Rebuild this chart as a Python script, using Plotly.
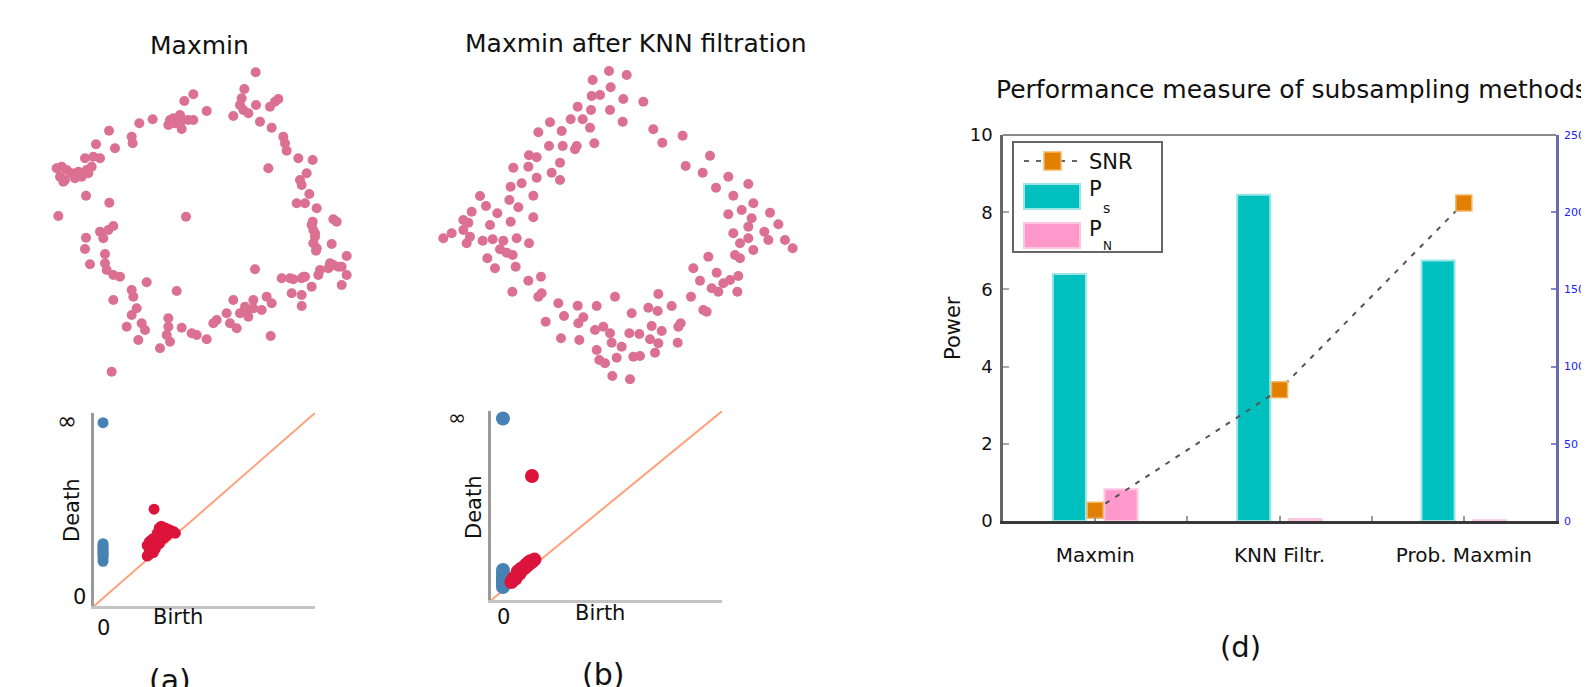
import plotly.graph_objects as go

# target picture size and the page's default body margin (the figure starts 8px in)
W, H = 1589, 687
OX, OY = 8, 8
FW, FH = W - OX, H - OY
FONT = "DejaVu Sans"

# ---------------- panel (a): Maxmin subsample (arbitrary plane units) ----------------
a_x = [767, 733, 725, 720, 730, 745, 768, 810, 825, 835, 700, 780, 815, 850, 855, 860, 895, 938, 805, 920,
       900, 905, 928, 890, 915, 950, 1000, 1010, 938, 940, 945, 940, 995, 948, 1040, 990, 1025, 960, 955, 1040,
       1025, 935, 910, 880, 845, 875, 905, 905, 800, 815, 785, 760, 735, 745, 720, 700, 690, 710, 680, 650,
       640, 812, 765,
       620, 590, 575, 545, 510, 500, 505, 505, 480, 530, 440, 415, 435, 425, 380, 395, 410, 400, 395, 340,
       360, 340, 320, 315, 315, 270, 255, 258, 300, 310, 325, 340, 335,
       175, 258, 328, 558, 185, 195, 180, 215, 235, 260, 275, 255, 280, 300, 288, 327, 345, 395, 398, 418,
       458, 510, 505, 540, 550, 580, 545, 553, 580, 620,
       170, 200, 245, 265, 190, 225, 520, 565, 525, 935, 945, 950, 740, 760, 870, 905, 915, 985, 1000, 1015]
a_y = [127, 177, 205, 225, 240, 250, 225, 230, 215, 207, 258, 275, 293, 320, 340, 362, 385, 390, 415, 430,
       450, 465, 492, 520, 520, 535, 568, 575, 575, 600, 620, 640, 642, 662, 678, 700, 710, 720, 735, 735,
       765, 770, 740, 748, 745, 790, 795, 828, 800, 820, 840, 810, 830, 860, 850, 810, 880, 895, 850, 870,
       880, 918, 718,
       928, 915, 910, 893, 935, 915, 890, 865, 955, 783, 757, 930, 900, 880, 890, 855, 835, 800, 780, 810,
       740, 735, 720, 700, 672, 703, 657, 623, 605, 625, 600, 588, 1025,
       558, 497, 518, 560, 410, 450, 440, 430, 425, 420, 410, 385, 380, 385, 343, 302, 355, 320, 340, 280,
       268, 270, 285, 255, 270, 270, 297, 213, 193, 243,
       415, 420, 440, 430, 455, 445, 265, 270, 280, 585, 610, 655, 845, 835, 745, 745, 740, 715, 705, 710]

# ---------------- panel (b): Maxmin after KNN filtration ----------------
b_x = [627, 680, 578, 632, 575, 600, 670, 730, 533, 573, 630, 668, 450, 512, 548, 570, 485, 415, 760, 787,
       848, 930, 583, 447, 488, 530, 525, 387, 410, 480, 340, 385, 455, 480, 410, 365, 332, 240, 328, 400,
       258, 355, 215, 292, 190, 205, 332, 270, 400, 155, 130, 190, 200, 210, 248, 278, 310, 350, 387, 300,
       320, 338, 262, 285, 347, 385, 423, 337, 415, 425, 475, 533, 590, 645, 492, 550, 535, 437, 483, 538,
       585, 610, 630, 635, 590, 598, 615, 650, 665, 695, 688, 718, 745, 773, 775, 815, 755, 785, 750, 775,
       765, 700, 720, 842, 835, 833, 873, 910, 920, 880, 900, 925, 950, 970, 990, 1015, 935, 955, 1012, 1005,
       1020, 1020, 1045, 1060, 1000, 1045, 1055, 1060, 1025, 985, 1110, 1135, 1093, 1105, 1155, 1178, 1000,
       1045, 985, 948, 908, 857, 637, 690]
b_y = [123, 135, 150, 172, 198, 195, 207, 215, 230, 240, 240, 275, 277, 268, 268, 293, 303, 307, 298, 338,
       317, 377, 340, 348, 348, 348, 358, 376, 382, 398, 413, 410, 428, 450, 443, 460, 470, 498, 510, 497,
       528, 532, 545, 550, 570, 578, 575, 585, 562, 610, 625, 600, 640, 620, 632, 628, 632, 625, 640, 658,
       668, 675, 685, 715, 710, 752, 740, 785, 800, 790, 820, 827, 828, 800, 858, 862, 880, 875, 925, 930,
       900, 890, 910, 938, 960, 990, 1000, 983, 950, 850, 910, 912, 833, 843, 792, 828, 888, 903, 928, 940,
       968, 980, 978, 880, 890, 938, 800, 840, 845, 715, 752, 680, 728, 760, 750, 738, 775, 785, 785, 675,
       685, 640, 625, 660, 610, 590, 565, 520, 540, 553, 548, 583, 605, 630, 630, 655, 497, 462, 440, 473,
       428, 408, 1038, 1048]

# ---------------- persistence diagrams (infinity drawn at death = 1.0) ----------------
pa_h0_birth = [0, 0, 0, 0, 0, 0, 0, 0, 0, 0, 0]
pa_h0_death = [1.0, 0.21, 0.23, 0.24, 0.25, 0.27, 0.28, 0.29, 0.30, 0.31, 0.26]
pa_h1_birth = [0.254, 0.22, 0.22, 0.23, 0.23, 0.24, 0.25, 0.25, 0.26, 0.27, 0.27, 0.28, 0.29, 0.29, 0.30,
               0.31, 0.31, 0.32, 0.33, 0.34, 0.35, 0.36, 0.24, 0.26, 0.28, 0.30, 0.32, 0.23, 0.27]
pa_h1_death = [0.507, 0.24, 0.30, 0.27, 0.32, 0.29, 0.26, 0.34, 0.30, 0.33, 0.37, 0.40, 0.36, 0.41, 0.38,
               0.35, 0.40, 0.37, 0.39, 0.38, 0.38, 0.37, 0.33, 0.28, 0.31, 0.34, 0.36, 0.25, 0.35]

pb_h0_birth = [0, 0, 0, 0, 0, 0, 0, 0]
pb_h0_death = [1.0, 0.02, 0.04, 0.06, 0.08, 0.10, 0.12, 0.05]
pb_h1_birth = [0.138, 0.04, 0.05, 0.06, 0.07, 0.08, 0.09, 0.10, 0.11, 0.12, 0.13, 0.14, 0.15, 0.07, 0.09,
               0.11, 0.13, 0.08, 0.12]
pb_h1_death = [0.666, 0.05, 0.07, 0.07, 0.09, 0.10, 0.12, 0.13, 0.14, 0.16, 0.16, 0.17, 0.18, 0.11, 0.13,
               0.15, 0.17, 0.12, 0.15]
diag = [-0.2, 1.2]

# ---------------- panel (d): performance measure ----------------
categories = ["Maxmin", "KNN Filtr.", "Prob. Maxmin"]
power_s = [6.4, 8.45, 6.75]
power_n = [0.82, 0.05, 0.02]
snr = [7, 85, 206]
left_ticks = [0, 2, 4, 6, 8, 10]
right_ticks = [0, 50, 100, 150, 200, 250]

PINK = "#DB7093"
BLUE = "#4682B4"
RED = "#DC143C"
SALMON = "#FFA07A"
TEAL = "#00BFBF"
PINKBAR = "#FF99CC"
ORANGE = "#E07F00"
DASH = "5px,7px"


def px(x):
    return (x - OX) / FW


def py(y):
    return 1 - (y - OY) / FH


def dx(l, r):
    return [px(l), px(r)]


def dy(top, bottom):
    return [py(bottom), py(top)]


fig = go.Figure()

# scatter clouds
fig.add_trace(go.Scatter(x=a_x, y=a_y, mode="markers", xaxis="x", yaxis="y",
                         marker=dict(color=PINK, size=10), showlegend=False))
fig.add_trace(go.Scatter(x=b_x, y=b_y, mode="markers", xaxis="x2", yaxis="y2",
                         marker=dict(color=PINK, size=10), showlegend=False))

# persistence diagram (a)
fig.add_trace(go.Scatter(x=diag, y=diag, mode="lines", xaxis="x3", yaxis="y3",
                         line=dict(color=SALMON, width=2), showlegend=False))
fig.add_trace(go.Scatter(x=pa_h0_birth, y=pa_h0_death, mode="markers", xaxis="x3", yaxis="y3",
                         marker=dict(color=BLUE, size=11), showlegend=False, cliponaxis=False))
fig.add_trace(go.Scatter(x=pa_h1_birth, y=pa_h1_death, mode="markers", xaxis="x3", yaxis="y3",
                         marker=dict(color=RED, size=11), showlegend=False))
# persistence diagram (b)
fig.add_trace(go.Scatter(x=diag, y=diag, mode="lines", xaxis="x4", yaxis="y4",
                         line=dict(color=SALMON, width=2), showlegend=False))
fig.add_trace(go.Scatter(x=pb_h0_birth, y=pb_h0_death, mode="markers", xaxis="x4", yaxis="y4",
                         marker=dict(color=BLUE, size=14), showlegend=False, cliponaxis=False))
fig.add_trace(go.Scatter(x=pb_h1_birth, y=pb_h1_death, mode="markers", xaxis="x4", yaxis="y4",
                         marker=dict(color=RED, size=14), showlegend=False))

# bars (d)
pos = list(range(len(categories)))
fig.add_trace(go.Bar(x=pos, y=power_s, xaxis="x5", yaxis="y5", name="Ps",
                     marker=dict(color=TEAL, line=dict(color="#9BE6E6", width=2)), showlegend=False))
fig.add_trace(go.Bar(x=pos, y=power_n, xaxis="x5", yaxis="y5", name="PN",
                     marker=dict(color=PINKBAR, line=dict(color="#FFC6E2", width=2)), showlegend=False))
fig.add_trace(go.Scatter(x=pos, y=snr, xaxis="x5", yaxis="y6", mode="lines+markers", name="SNR",
                         line=dict(color="#555555", width=2, dash=DASH),
                         marker=dict(symbol="square", size=16, color=ORANGE,
                                     line=dict(color="#F3B766", width=1.5)),
                         showlegend=False, cliponaxis=False))

hidden = dict(visible=False, showgrid=False, zeroline=False, automargin=False)
pd_x = dict(showline=True, linecolor="#C4C4C4", linewidth=3, showgrid=False, zeroline=False,
            showticklabels=False, ticks="", automargin=False)
pd_y = dict(showline=True, linecolor="#9A9A9A", linewidth=3, showgrid=False, zeroline=False,
            showticklabels=False, ticks="", automargin=False)

fig.update_layout(
    template="none",
    width=FW, height=FH, autosize=False, margin=dict(l=0, r=0, t=0, b=0, pad=0),
    paper_bgcolor="white", plot_bgcolor="rgba(0,0,0,0)",
    font=dict(family=FONT, color="#111"),
    barmode="group", bargap=0.44, bargroupgap=0.36,
    xaxis=dict(domain=dx(8, 400), range=[24, 1200], anchor="y", **hidden),
    yaxis=dict(domain=dy(30, 380), range=[1050, 0], anchor="x", **hidden),
    xaxis2=dict(domain=dx(400, 820), range=[0, 1260], anchor="y2", **hidden),
    yaxis2=dict(domain=dy(30, 390), range=[1080, 0], anchor="x2", **hidden),
    xaxis3=dict(domain=dx(94, 315), range=[-0.045, 1.055], anchor="y3", **pd_x),
    yaxis3=dict(domain=dy(413, 606), range=[-0.045, 1.055], anchor="x3", **pd_y),
    xaxis4=dict(domain=dx(491, 722), range=[-0.057, 1.043], anchor="y4", **pd_x),
    yaxis4=dict(domain=dy(411, 600), range=[-0.055, 1.044], anchor="x4", **pd_y),
    xaxis5=dict(domain=dx(1003, 1556), range=[-0.5, 2.5], anchor="y5", automargin=False,
                tickvals=[0, 0.5, 1, 1.5, 2],
                ticktext=[categories[0], "", categories[1], "", categories[2]],
                ticks="inside", ticklen=5, tickcolor="#999", tickwidth=1.5,
                showline=True, linecolor="#383838", linewidth=3,
                tickfont=dict(size=20, color="#111"), ticklabelstandoff=14,
                showgrid=False, zeroline=False),
    yaxis5=dict(domain=dy(135, 521), range=[0, 10], anchor="x5", automargin=False,
                tickvals=left_ticks, ticks="inside", ticklen=6, tickcolor="#aaa", tickwidth=1.5,
                showline=True, linecolor="#666", linewidth=2.5,
                tickfont=dict(size=18, color="#111"), ticklabelstandoff=4,
                showgrid=False, zeroline=False),
    yaxis6=dict(domain=dy(135, 521), range=[0, 250], anchor="x5", overlaying="y5", side="right",
                automargin=False,
                tickvals=right_ticks, ticks="inside", ticklen=5, tickcolor="#8888C8", tickwidth=1.5,
                showline=True, linecolor="#6A6AAE", linewidth=2.5,
                tickfont=dict(size=11, color="#2020FF"), ticklabelstandoff=3,
                showgrid=False, zeroline=False),
)

shapes = [
    # top border of panel (d)
    dict(type="line", xref="x5 domain", yref="y5 domain", x0=0, x1=1, y0=1, y1=1,
         line=dict(color="#8A8A8A", width=2)),
    # legend box
    dict(type="rect", xref="paper", yref="paper", x0=px(1013), x1=px(1162), y0=py(142), y1=py(252),
         line=dict(color="#666", width=2), fillcolor="white"),
    dict(type="line", xref="paper", yref="paper", x0=px(1024), x1=px(1080), y0=py(161), y1=py(161),
         line=dict(color="#666", width=2, dash=DASH)),
    dict(type="rect", xref="paper", yref="paper", x0=px(1044), x1=px(1061), y0=py(152), y1=py(170),
         line=dict(color="#F3B766", width=1.5), fillcolor=ORANGE),
    dict(type="rect", xref="paper", yref="paper", x0=px(1024), x1=px(1080), y0=py(184), y1=py(209),
         line=dict(color="#9BE6E6", width=2), fillcolor=TEAL),
    dict(type="rect", xref="paper", yref="paper", x0=px(1024), x1=px(1080), y0=py(223), y1=py(248),
         line=dict(color="#FFC6E2", width=2), fillcolor=PINKBAR),
]


def ann(text, x, y, size, xanchor="center", angle=0, color="#111"):
    return dict(text=text, x=px(x), y=py(y), xref="paper", yref="paper", showarrow=False,
                xanchor=xanchor, yanchor="middle", textangle=angle,
                font=dict(family=FONT, size=size, color=color))


annotations = [
    ann("Maxmin", 199, 45, 25),
    ann("Maxmin after KNN filtration", 636, 43, 25),
    ann("Performance measure of subsampling methods", 994, 89, 25, xanchor="left"),
    # persistence (a)
    ann("∞", 67, 421, 24),
    ann("0", 79, 597, 21),
    ann("0", 103, 628, 21),
    ann("Death", 72, 510, 21, angle=-90),
    ann("Birth", 178, 617, 21),
    # persistence (b)
    ann("∞", 457, 417, 22),
    ann("0", 503, 617, 21),
    ann("Death", 474, 507, 21, angle=-90),
    ann("Birth", 600, 613, 21),
    # panel d
    ann("Power", 953, 328, 21, angle=-90),
    ann("SNR", 1087, 162, 21, xanchor="left"),
    ann("P", 1087, 189, 21, xanchor="left"),
    ann("s", 1101, 208, 14, xanchor="left"),
    ann("P", 1087, 229, 21, xanchor="left"),
    ann("N", 1101, 246, 12, xanchor="left"),
    # subfigure labels
    ann("(a)", 170, 680, 30),
    ann("(b)", 603, 674, 30),
    ann("(d)", 1240, 647, 29),
]

fig.update_layout(shapes=shapes, annotations=annotations)
fig.write_html("out.html")
